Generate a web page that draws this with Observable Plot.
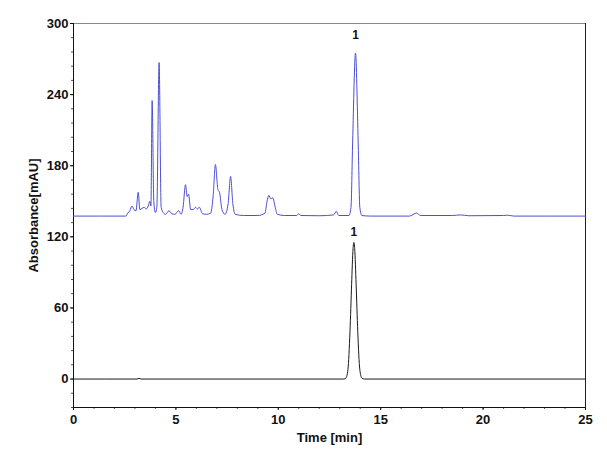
<!DOCTYPE html>
<html><head><meta charset="utf-8">
<script src="https://cdn.jsdelivr.net/npm/d3@7"></script>
<script src="https://cdn.jsdelivr.net/npm/@observablehq/plot@0.6"></script>
<style>body{margin:0;background:#fff}</style>
</head><body><div id="chart"></div>
<script>
// Blue trace (upper chromatogram)
const blueTime = [0,2.55,2.65,2.75,2.86,2.95,3.05,3.16,3.24,3.35,3.45,3.55,3.65,3.73,3.78,3.84,3.92,4.0,4.07,4.18,4.28,4.4,4.5,4.66,4.8,4.95,5.14,5.25,5.35,5.47,5.55,5.62,5.72,5.85,5.96,6.05,6.14,6.3,6.5,6.7,6.82,6.93,7.05,7.13,7.25,7.4,7.55,7.67,7.78,7.9,8.3,9.0,9.35,9.45,9.54,9.63,9.73,9.85,9.95,10.3,10.9,11.0,11.1,12.0,12.7,12.83,12.95,13.45,13.55,13.63,13.77,13.9,13.98,14.08,14.5,16.4,16.75,16.95,18.5,18.9,19.3,21.0,21.2,21.5,25];
const blueAbs  = [137.5,137.5,140,142,146,143,142,157.5,143,144,145,143.5,146,150,146,235,150,140.5,145,267,145,140,139,142,139.5,139,142,139,145,164,154,156,143,143,145,143.5,145,139.5,139,140,155,181,160,157.5,143,139,148,171,148,139,138,138,140,150,155,152,153,145,139,138,138,139.5,138,137.8,138.5,141.5,138,138,145,200,275,200,145,138,137.5,137.5,140,138,138,138.5,137.8,138,138.3,137.5,137.5];
// Black trace (lower chromatogram)
const blackTime = [0,3.1,3.2,3.3,13.2,13.3,13.4,13.5,13.58,13.65,13.69,13.73,13.8,13.88,13.98,14.08,14.2,25];
const blackAbs  = [0,0,0.6,0,0,0.8,8,40,80,110,115.3,110,80,40,8,0.8,0,0];
// Peak labels
const labelTime = [13.77, 13.69];
const labelAbs  = [290, 124];
const labelText = ["1", "1"];
// Ticks
const xTicks = [0,5,10,15,20,25];
const yTicks = [0,60,120,180,240,300];

const blue = blueTime.map((t,i)=>({t, v: blueAbs[i]}));
const black = blackTime.map((t,i)=>({t, v: blackAbs[i]}));
const labels = labelTime.map((t,i)=>({t, v: labelAbs[i], s: labelText[i]}));
const xMinor = d3.range(0, 25.01, 1);
const yMinor = d3.range(-24, 300.01, 12);

const chart = Plot.plot({
  width: 607, height: 461,
  marginLeft: 73, marginRight: 22, marginTop: 23, marginBottom: 54,
  style: {fontFamily: "Arial, 'Liberation Sans', sans-serif", fontSize: "13px", fontWeight: "bold", color: "#111", background: "#fff"},
  x: {domain: [0, 25]},
  y: {domain: [-24, 300]},
  marks: [
    Plot.axisX({ticks: xMinor, tickSize: 2, tickFormat: () => "", label: null, stroke: "#555"}),
    Plot.axisY({ticks: yMinor, tickSize: 2, tickFormat: () => "", label: null, stroke: "#555"}),
    Plot.axisX({ticks: xTicks, tickSize: 3, tickPadding: 4, label: "Time [min]", labelAnchor: "center", labelArrow: "none", labelOffset: 34, fontSize: 13}),
    Plot.axisY({ticks: yTicks, tickSize: 3, tickPadding: 2, label: "Absorbance[mAU]", labelAnchor: "center", labelArrow: "none", labelOffset: 45, fontSize: 13}),
    Plot.ruleY([300], {stroke: "#888"}),
    Plot.ruleX([25], {stroke: "#222"}),
    Plot.ruleX([0], {stroke: "#111"}),
    Plot.ruleY([-24], {stroke: "#111"}),
    Plot.line(black, {x: "t", y: "v", stroke: "#1a1a1a", strokeWidth: 1, curve: "monotone-x"}),
    Plot.line(blue, {x: "t", y: "v", stroke: "#4d4dd6", strokeWidth: 1, curve: "monotone-x"}),
    Plot.text(labels, {x: "t", y: "v", text: "s", fontSize: 12, fontWeight: "bold", fill: "#111"})
  ]
});
document.getElementById("chart").appendChild(chart);
</script>
</body></html>
